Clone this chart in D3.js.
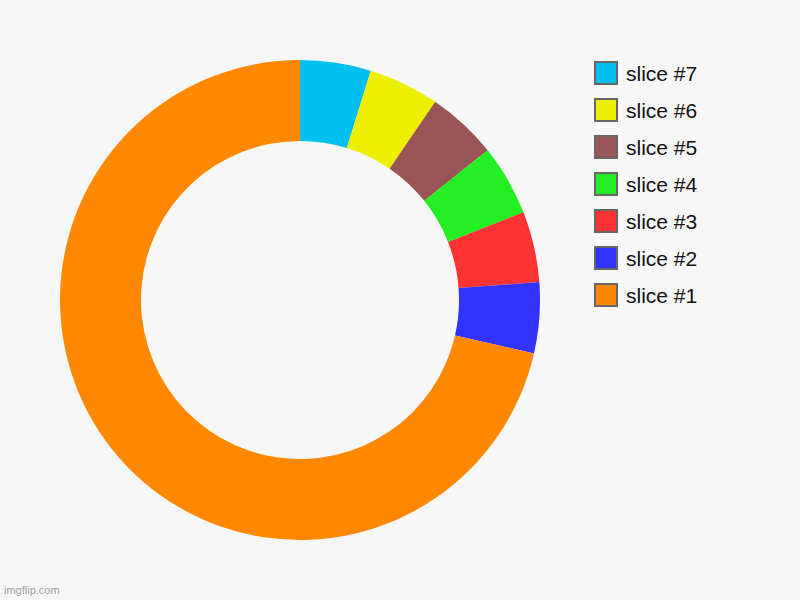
<!DOCTYPE html>
<html>
<head>
  <meta charset="UTF-8">
  <title>Donut chart</title>
  <script src="https://d3js.org/d3.v7.min.js"></script>
  <style>
    body { margin: 0; background: #f7f7f7; }
    .legend-label { font-family: "Liberation Sans", Arial, sans-serif; font-size: 21px; fill: #111; }
    .credit { font-family: "Liberation Sans", Arial, sans-serif; font-size: 11px; fill: #a0a0a0; }
  </style>
</head>
<body>
  <svg width="800" height="600"></svg>

  <script>
    // slices in drawing order (clockwise from 12 o'clock)
    const labels = ["slice #7", "slice #6", "slice #5", "slice #4", "slice #3", "slice #2", "slice #1"];
    const values = [1, 1, 1, 1, 1, 1, 15];
    const colors = ["#00c0f0", "#eeee00", "#995555", "#22ee22", "#ff3333", "#3333ff", "#ff8800"];

    const svg = d3.select("svg");
    svg.append("rect").attr("width", 800).attr("height", 600).attr("fill", "#f7f7f7");

    const cx = 300, cy = 300;
    const outerR = 240, innerR = 159;

    const pie = d3.pie().sort(null).value(d => d);
    const arc = d3.arc().innerRadius(innerR).outerRadius(outerR);

    const g = svg.append("g")
      .attr("transform", `translate(${cx},${cy})`);

    g.selectAll("path")
      .data(pie(values))
      .enter().append("path")
      .attr("d", arc)
      .attr("fill", (d, i) => colors[i]);

    // legend, top to bottom in the same order
    const legendY = d3.scaleBand()
      .domain(labels)
      .range([55, 314]);

    const legend = svg.append("g").attr("class", "legend");

    const item = legend.selectAll("g")
      .data(labels)
      .enter().append("g")
      .attr("transform", d => `translate(595,${legendY(d) + 7})`);

    item.append("rect")
      .attr("width", 22)
      .attr("height", 22)
      .attr("fill", (d, i) => colors[i])
      .attr("stroke", "#666")
      .attr("stroke-width", 2);

    item.append("text")
      .attr("class", "legend-label")
      .attr("x", 31)
      .attr("y", 19)
      .text(d => d);

    svg.append("text")
      .attr("class", "credit")
      .attr("x", 4)
      .attr("y", 594)
      .text("imgflip.com");
  </script>
</body>
</html>
